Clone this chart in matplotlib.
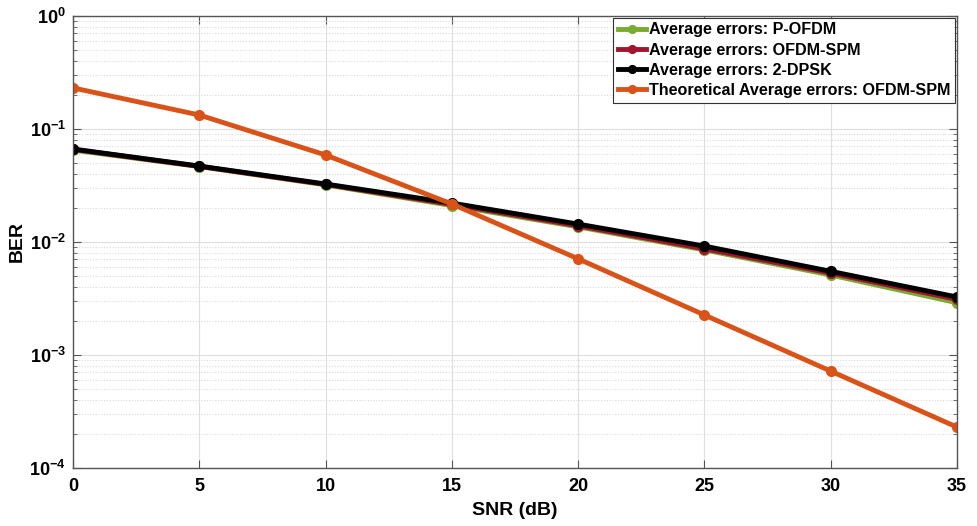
import matplotlib
matplotlib.use("Agg")
import matplotlib.pyplot as plt
from matplotlib.ticker import LogLocator, NullFormatter, FixedLocator

plt.rcParams['font.family'] = ['Liberation Sans', 'DejaVu Sans']
plt.rcParams['font.weight'] = 'bold'
plt.rcParams['mathtext.fontset'] = 'custom'
plt.rcParams['mathtext.rm'] = 'Liberation Sans:bold'
plt.rcParams['mathtext.bf'] = 'Liberation Sans:bold'
plt.rcParams['mathtext.it'] = 'Liberation Sans:bold:italic'
plt.rcParams['mathtext.default'] = 'bf'

snr = [0, 5, 10, 15, 20, 25, 30, 35]
ber_pofdm = [0.065, 0.0465, 0.032, 0.021, 0.0136, 0.0085, 0.0051, 0.0029]
ber_ofdmspm = [0.066, 0.0467, 0.0323, 0.0215, 0.0139, 0.0087, 0.0053, 0.0031]
ber_dpsk = [0.0665, 0.047, 0.0326, 0.0221, 0.0144, 0.0092, 0.0055, 0.00326]
ber_theory = [0.231, 0.133, 0.0589, 0.0217, 0.0071, 0.00226, 0.00072, 0.00023]

labels = ["Average errors: P-OFDM", "Average errors: OFDM-SPM",
          "Average errors: 2-DPSK", "Theoretical Average errors: OFDM-SPM"]
colors = ["#77AC30", "#A2142F", "#000000", "#D95319"]

fig = plt.figure(figsize=(9.77, 5.26), dpi=100)
ax = fig.add_axes([0.0747, 0.1103, 0.9048, 0.8593])

for y, c, l in zip([ber_pofdm, ber_ofdmspm, ber_dpsk, ber_theory], colors, labels):
    ax.semilogy(snr, y, '-o', color=c, lw=3.5, ms=7, label=l)

ax.set_xlim(0, 35)
ax.set_ylim(1e-4, 1)
ax.xaxis.set_major_locator(FixedLocator(snr))
ax.yaxis.set_major_locator(LogLocator(base=10, numticks=10))
ax.yaxis.set_minor_locator(LogLocator(base=10, subs=range(2, 10), numticks=20))
ax.yaxis.set_minor_formatter(NullFormatter())

ax.grid(True, which='major', color='#DEDEDE', lw=0.8, ls='-')
ax.grid(True, which='minor', axis='y', color='#DADADA', lw=0.8, ls=(0, (1, 1.5)))
ax.set_axisbelow(True)

ax.tick_params(which='both', direction='in', top=True, right=True, color='#555555')
ax.tick_params(which='major', length=6)
ax.tick_params(axis='x', which='major', labelsize=13, pad=7)
ax.tick_params(axis='y', which='major', labelsize=13, pad=5)
ax.tick_params(which='minor', length=3)
for lab in ax.get_xticklabels() + ax.get_yticklabels():
    lab.set_fontweight('bold')
for s in ax.spines.values():
    s.set_color('#555555')
    s.set_linewidth(1.0)

ax.set_xlabel("SNR (dB)", fontsize=14, fontweight='bold', labelpad=5)
ax.set_ylabel("BER", fontsize=14, fontweight='bold')
ax.yaxis.set_label_coords(-0.053, 0.5)

leg = ax.legend(loc='upper right', fancybox=False, framealpha=1,
                edgecolor='#333333', handlelength=1.75, handletextpad=0.2,
                borderpad=0.3, labelspacing=0.32, borderaxespad=0.1,
                markerscale=0.8,
                prop={'weight': 'bold', 'size': 11.6})
leg.get_frame().set_linewidth(0.8)

fig.savefig("out.png", dpi=100)
